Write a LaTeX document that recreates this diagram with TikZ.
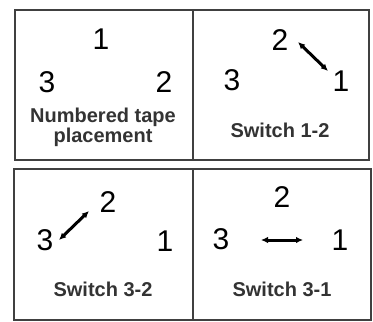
\documentclass[tikz,border=0pt]{standalone}
\usepackage{fontspec}
\setmainfont{Liberation Sans}
\usetikzlibrary{arrows.meta}

\begin{document}
\begin{tikzpicture}[>={Latex[length=7pt,width=6.5pt]}, x=1pt, y=-1pt]

\tikzset{num/.style={font=\fontsize{30}{30}\selectfont, inner sep=0pt},
tag/.style={font=\fontsize{20}{20}\selectfont\bfseries, text=black!80, align=center, inner sep=0pt},
swap/.style={<->, line width=3pt},
frame/.style={draw=black!75, line width=1.6pt}}

\useasboundingbox (0,0) rectangle (373,322);

\draw[frame] (15,10) rectangle (369,160);
\draw[frame] (193,10) -- (193,160);
\draw[frame] (14,169) rectangle (371,320);
\draw[frame] (193,169) -- (193,320);

% numbered tape placement
\node[num] (a1) at (101,39) {1};
\node[num] (a3) at (47,82) {3};
\node[num] (a2) at (164,82) {2};
\node[tag] (atag) at (103,127) {Numbered tape\\placement};

% switch 1-2
\node[num] (b2) at (280,40) {2};
\node[num] (b3) at (232,80) {3};
\node[num] (b1) at (341,81) {1};
\node[tag, anchor=base] (btag) at (280,137) {Switch 1-2};
\coordinate (b12s) at (298,42);
\coordinate (b12e) at (328,71);
\draw[swap] (b12s) -- (b12e);

% switch 3-2
\node[num] (c2) at (108,202) {2};
\node[num] (c3) at (45,240) {3};
\node[num] (c1) at (165,241) {1};
\node[tag, anchor=base] (ctag) at (103,296) {Switch 3-2};
\coordinate (c32s) at (59,240);
\coordinate (c32e) at (89,211);
\draw[swap] (c32s) -- (c32e);

% switch 3-1
\node[num] (d2) at (282,197) {2};
\node[num] (d3) at (221,239) {3};
\node[num] (d1) at (340,240) {1};
\node[tag, anchor=base] (dtag) at (282,296) {Switch 3-1};
\coordinate (d31s) at (261,240);
\coordinate (d31e) at (303,240);
\draw[swap] (d31s) -- (d31e);

\end{tikzpicture}
\end{document}
